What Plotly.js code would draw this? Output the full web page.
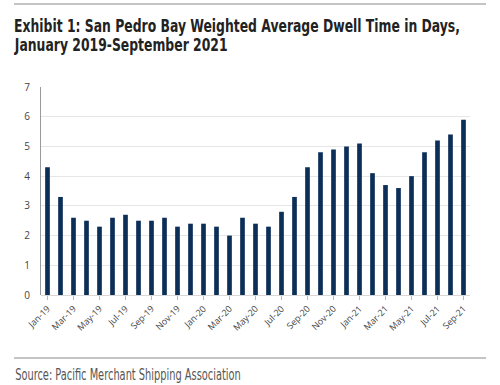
<!DOCTYPE html>
<html><head><meta charset="utf-8">
<script src="https://cdn.plot.ly/plotly-3.0.1.min.js"></script>
<style>html,body{margin:0;padding:0;background:#fff}#chart{width:500px;height:385px}</style>
</head><body><div id="chart"></div>
<script>
const months = ["Jan-19","Feb-19","Mar-19","Apr-19","May-19","Jun-19","Jul-19","Aug-19","Sep-19","Oct-19","Nov-19","Dec-19",
"Jan-20","Feb-20","Mar-20","Apr-20","May-20","Jun-20","Jul-20","Aug-20","Sep-20","Oct-20","Nov-20","Dec-20",
"Jan-21","Feb-21","Mar-21","Apr-21","May-21","Jun-21","Jul-21","Aug-21","Sep-21"];
const dwellDays = [4.3,3.3,2.6,2.5,2.3,2.6,2.7,2.5,2.5,2.6,2.3,2.4,
2.4,2.3,2.0,2.6,2.4,2.3,2.8,3.3,4.3,4.8,4.9,5.0,
5.1,4.1,3.7,3.6,4.0,4.8,5.2,5.4,5.9];
const tickLabels = months.filter((m,i)=>i%2===0);
const yTicks = [0,1,2,3,4,5,6,7];
const titleLines = ["Exhibit 1: San Pedro Bay Weighted Average Dwell Time in Days,", "January 2019-September 2021"];
const sourceText = "Source: Pacific Merchant Shipping Association";

const narrow = "DejaVu Sans Condensed, Liberation Sans Narrow, sans-serif";
const H = 385, B = 90, PH = 208, PW = 429, L = 41;
const py = p => (H - B - p) / PH;
const px = p => (p - L) / PW;
const data = [{type:'bar', x:months, y:dwellDays, marker:{color:'#0c2f57'}, hoverinfo:'x+y'}];
const layout = {
  width:500, height:385,
  margin:{l:41, r:29.5, t:87, b:90},
  paper_bgcolor:'#fff', plot_bgcolor:'#fff',
  bargap:0.64,
  showlegend:false,
  font:{family:"Open Sans, sans-serif", color:'#444'},
  xaxis:{type:'category', tickvals:tickLabels, ticktext:tickLabels, tickangle:-45,
    tickfont:{size:9, color:'#444'}, ticks:'outside', ticklen:4, tickcolor:'#bbb',
    showline:false, showgrid:false, zeroline:false},
  yaxis:{range:[0,7], tickvals:yTicks, tickfont:{size:10, color:'#444'},
    showgrid:true, gridcolor:'#e6e6e6', gridwidth:1, zeroline:true, zerolinecolor:'#d8d8d8',
    showline:true, linecolor:'#999', linewidth:1, ticks:'', ticklabelstandoff:8},
  shapes:[
    {type:'line', xref:'paper', yref:'paper', x0:px(14), x1:px(486), y0:py(4), y1:py(4), line:{color:'#c4c4c4', width:2}},
    {type:'line', xref:'paper', yref:'paper', x0:px(14), x1:px(486), y0:py(358), y1:py(358), line:{color:'#c4c4c4', width:2}}
  ],
  annotations:[
    {xref:'paper', yref:'paper', x:px(13), y:py(14.5), xanchor:'left', yanchor:'top', showarrow:false, borderpad:0,
     text:'<b>'+titleLines[0]+'</b>', font:{family:narrow, size:17, color:'#222'}},
    {xref:'paper', yref:'paper', x:px(13), y:py(34), xanchor:'left', yanchor:'top', showarrow:false, borderpad:0,
     text:'<b>'+titleLines[1]+'</b>', font:{family:narrow, size:17, color:'#222'}},
    {xref:'paper', yref:'paper', x:px(13), y:py(375), xanchor:'left', yanchor:'middle', showarrow:false,
     text:sourceText, font:{family:narrow, size:15, color:'#555'}}
  ]
};
Plotly.newPlot('chart', data, layout, {displayModeBar:false, staticPlot:true}).then(gd => {
  // condense text horizontally to mimic a narrow typeface
  const anns = gd.querySelectorAll('.annotation');
  const squeeze = (g, s) => {
    const t = g.querySelector('text');
    const bb = t.getBBox();
    const x0 = bb.x;
    const prev = t.getAttribute('transform') || '';
    t.setAttribute('transform', prev + ` translate(${x0},0) scale(${s},1) translate(${-x0},0)`);
  };
  const w0 = anns[0].querySelector('text').getBBox().width;
  const sTitle = 446 / w0;
  squeeze(anns[0], sTitle);
  squeeze(anns[1], sTitle);
  const w2 = anns[2].querySelector('text').getBBox().width;
  squeeze(anns[2], 226 / w2);
});
</script></body></html>
